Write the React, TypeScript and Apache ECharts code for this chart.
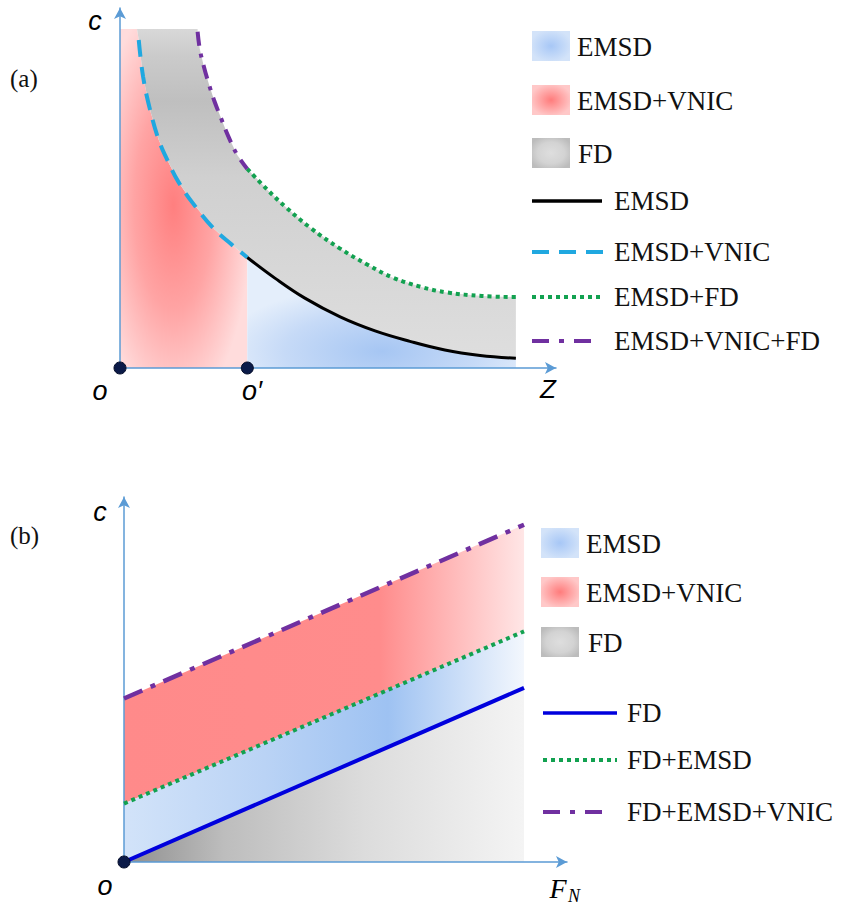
import React, { useEffect, useRef } from "react";
import * as echarts from "echarts";

// ---------- (a) data: c versus Z ----------
const emsdVnicCurve: number[][] = [
  [0.43, 9.11], [0.53, 8.09], [0.69, 7.17], [0.89, 6.33], [1.10, 5.74],
  [1.34, 5.17], [1.67, 4.58], [2.16, 3.86], [2.57, 3.42], [2.92, 3.07],
];
const emsdCurve: number[][] = [
  [2.92, 3.07], [3.56, 2.49], [4.24, 1.94], [5.05, 1.42], [5.85, 1.03],
  [6.65, 0.74], [7.45, 0.50], [8.26, 0.35], [9.08, 0.27],
];
const emsdVnicFdCurve: number[][] = [
  [1.78, 9.34], [1.83, 8.86], [1.92, 8.39], [2.04, 7.88], [2.16, 7.43],
  [2.33, 6.90], [2.49, 6.42], [2.69, 5.92], [2.92, 5.53],
];
const emsdFdCurve: number[][] = [
  [2.92, 5.53], [3.39, 4.94], [3.80, 4.47], [4.37, 3.89], [5.03, 3.33],
  [5.69, 2.86], [6.26, 2.51], [6.91, 2.25], [7.49, 2.10], [8.30, 2.00], [9.08, 1.97],
];
const regionTopA = 9.42;
const fdBandLeftA = 0.39;
const oPrimeZ = 2.92;
const zEnd = 9.08;

// ---------- (b) data: c versus F_N ----------
const fnRange = [0, 9.03];
const fdLine = [0, 4.77];
const fdEmsdLine = [1.6, 6.32];
const fdEmsdVnicLine = [4.48, 9.24];

// ---------- legends ----------
const legendAreaA = ["EMSD", "EMSD+VNIC", "FD"];
const legendLineA = ["EMSD", "EMSD+VNIC", "EMSD+FD", "EMSD+VNIC+FD"];
const legendAreaB = ["EMSD", "EMSD+VNIC", "FD"];
const legendLineB = ["FD", "FD+EMSD", "FD+EMSD+VNIC"];

const SERIF = '"Liberation Serif", "Times New Roman", serif';
const SANS = '"Liberation Sans", Arial, sans-serif';

const AXIS_COLOR = "#5b9bd5";
const BLUE_SW = { type: "radial", x: 0.5, y: 0.5, r: 0.55, colorStops: [{ offset: 0, color: "#a7c7f6" }, { offset: 1, color: "#d3e3f9" }] };
const PINK_SW = { type: "radial", x: 0.5, y: 0.5, r: 0.55, colorStops: [{ offset: 0, color: "#ff7c7c" }, { offset: 1, color: "#ffc8c8" }] };
const GRAY_SW = { type: "radial", x: 0.5, y: 0.5, r: 0.6, colorStops: [{ offset: 0, color: "#dedede" }, { offset: 0.6, color: "#d3d3d3" }, { offset: 1, color: "#bcbcbc" }] };

const LS_EMSD = { stroke: "#000000", lineWidth: 3.5 };
const LS_VNIC = { stroke: "#20a8e0", lineWidth: 4, lineDash: [17, 10] };
const LS_FDDOT = { stroke: "#12a150", lineWidth: 4, lineDash: [4, 4] };
const LS_PURPLE = { stroke: "#7030a0", lineWidth: 4, lineDash: [17, 10, 5, 10] };
const LS_FD_B = { stroke: "#0000dd", lineWidth: 3.5 };

function polySeries(idx: number, poly: number[][], fill: any, z: number) {
  return {
    type: "custom",
    xAxisIndex: idx,
    yAxisIndex: idx,
    z,
    silent: true,
    clip: false,
    data: [[0, 0]],
    renderItem: (_p: any, api: any) => ({
      type: "polygon",
      shape: { points: poly.map((pt) => api.coord(pt)) },
      style: { fill },
    }),
  };
}

function lineSeries(idx: number, data: number[][], style: any, smooth: number | boolean) {
  return {
    type: "line",
    xAxisIndex: idx,
    yAxisIndex: idx,
    data,
    smooth,
    symbol: "none",
    showSymbol: false,
    silent: true,
    clip: false,
    z: 5,
    lineStyle: {
      color: style.stroke,
      width: style.lineWidth,
      type: style.lineDash ? style.lineDash : "solid",
    },
  };
}

function txt(text: string, x: number, y: number, font: string, align = "left", fill = "#111111") {
  return { type: "text", x, y, silent: true, z: 20, style: { text, font, fill, align, verticalAlign: "middle" } };
}

function swatch(x: number, y: number, fill: any) {
  return { type: "rect", silent: true, z: 20, shape: { x, y: y - 15, width: 38, height: 30 }, style: { fill } };
}

function legLine(x1: number, x2: number, y: number, style: any) {
  return { type: "line", silent: true, z: 20, shape: { x1, y1: y, x2, y2: y }, style: { ...style } };
}

function buildOption() {
  // (a) polygons
  const pinkA = [
    [0, 0],
    [0, regionTopA],
    [fdBandLeftA, regionTopA],
    ...emsdVnicCurve,
    [oPrimeZ, 0],
  ];
  const blueA = [[oPrimeZ, 0], ...emsdCurve, [zEnd, 0]];
  const grayA = [
    [fdBandLeftA, regionTopA],
    [emsdVnicFdCurve[0][0], regionTopA],
    ...emsdVnicFdCurve,
    ...emsdFdCurve.slice(1),
    ...emsdCurve.slice().reverse(),
    ...emsdVnicCurve.slice(0, -1).reverse(),
  ];

  // (b) polygons
  const x0 = fnRange[0], x1 = fnRange[1];
  const redB = [[x0, fdEmsdVnicLine[0]], [x1, fdEmsdVnicLine[1]], [x1, fdEmsdLine[1]], [x0, fdEmsdLine[0]]];
  const blueB = [[x0, fdEmsdLine[0]], [x1, fdEmsdLine[1]], [x1, fdLine[1]], [x0, fdLine[0]]];
  const grayB = [[x0, fdLine[0]], [x1, fdLine[1]], [x1, 0]];

  const pinkGradA = { type: "radial", x: 0.42, y: 0.52, r: 0.62, colorStops: [
    { offset: 0, color: "#ff7f7f" }, { offset: 0.5, color: "#ffa4a4" }, { offset: 1, color: "#ffdcdc" } ] };
  const grayGradA = { type: "linear", x: 0, y: 0, x2: 0, y2: 1, colorStops: [
    { offset: 0, color: "#d8d8d8" }, { offset: 0.08, color: "#cbcbcb" }, { offset: 0.22, color: "#bfbfbf" },
    { offset: 0.45, color: "#d0d0d0" }, { offset: 1, color: "#dedede" } ] };
  const blueGradA = { type: "radial", x: 0.5, y: 0.85, r: 0.6, colorStops: [
    { offset: 0, color: "#a6c6f3" }, { offset: 0.6, color: "#c6daf7" }, { offset: 1, color: "#e4eefb" } ] };

  const redGradB = { type: "linear", x: 0, y: 0, x2: 1, y2: 0, colorStops: [
    { offset: 0, color: "#ff8a8a" }, { offset: 0.64, color: "#ff8c8c" }, { offset: 1, color: "#ffe6e6" } ] };
  const blueGradB = { type: "linear", x: 0, y: 0, x2: 1, y2: 0, colorStops: [
    { offset: 0, color: "#d2e3f9" }, { offset: 0.35, color: "#bad3f5" }, { offset: 0.66, color: "#9ec2f2" }, { offset: 1, color: "#f3f7fd" } ] };
  const grayGradB = { type: "linear", x: 0, y: 0, x2: 1, y2: 0, colorStops: [
    { offset: 0, color: "#8e8e8e" }, { offset: 0.25, color: "#bdbdbd" }, { offset: 0.6, color: "#dcdcdc" }, { offset: 1, color: "#f4f4f4" } ] };

  const axisLine = {
    show: true,
    onZero: false,
    symbol: ["none", "arrow"],
    symbolSize: [9, 11],
    lineStyle: { color: AXIS_COLOR, width: 1.5 },
  };
  const axisCommon = {
    type: "value",
    min: 0,
    max: 10,
    axisLine,
    axisTick: { show: false },
    axisLabel: { show: false },
    splitLine: { show: false },
    z: 3,
  };

  const graphic: any[] = [];
  // (a) labels
  graphic.push(txt("(a)", 10, 78, `25px ${SERIF}`));
  graphic.push(txt("c", 95, 21, `italic 27px ${SANS}`, "center", "#000"));
  graphic.push(txt("o", 100, 391, `italic 27px ${SANS}`, "center", "#000"));
  graphic.push(txt("o\u2032", 252, 391, `italic 27px ${SANS}`, "center", "#000"));
  graphic.push(txt("Z", 548, 389, `italic 26px ${SANS}`, "center", "#000"));
  // (a) legend
  const swA = [BLUE_SW, PINK_SW, GRAY_SW];
  const swAY = [46, 100, 153];
  legendAreaA.forEach((name, i) => {
    graphic.push(swatch(532, swAY[i], swA[i]));
    graphic.push(txt(name, name === "FD" ? 578 : 577, swAY[i] + 1, `27px ${SERIF}`));
  });
  const lnA = [LS_EMSD, LS_VNIC, LS_FDDOT, LS_PURPLE];
  const lnAY = [201, 252, 297, 341];
  const lnAEnd = [602, 603, 603, 595];
  legendLineA.forEach((name, i) => {
    graphic.push(legLine(532, lnAEnd[i], lnAY[i], lnA[i]));
    graphic.push(txt(name, 614, lnAY[i], `27px ${SERIF}`));
  });

  // (b) labels
  graphic.push(txt("(b)", 10, 535, `25px ${SERIF}`));
  graphic.push(txt("c", 100, 512, `italic 27px ${SANS}`, "center", "#000"));
  graphic.push(txt("o", 105, 886, `italic 27px ${SANS}`, "center", "#000"));
  graphic.push(txt("F", 558, 888, `italic 28px ${SERIF}`, "center", "#000"));
  graphic.push(txt("N", 574, 896, `italic 18px ${SERIF}`, "center", "#000"));
  // (b) legend
  const swB = [BLUE_SW, PINK_SW, GRAY_SW];
  const swBY = [543, 592, 642];
  legendAreaB.forEach((name, i) => {
    graphic.push(swatch(541, swBY[i], swB[i]));
    graphic.push(txt(name, name === "FD" ? 588 : 586, swBY[i] + 1, `27px ${SERIF}`));
  });
  const lnB = [LS_FD_B, LS_FDDOT, LS_PURPLE];
  const lnBY = [713, 760, 812];
  const lnBEnd = [617, 617, 608];
  legendLineB.forEach((name, i) => {
    graphic.push(legLine(543, lnBEnd[i], lnBY[i], lnB[i]));
    graphic.push(txt(name, 627, lnBY[i], `27px ${SERIF}`));
  });

  const markerStyle = { color: "#0b1a48", borderColor: "#040c28", borderWidth: 1, opacity: 1 };

  return {
    animation: false,
    backgroundColor: "#ffffff",
    grid: [
      { left: 120, top: 8, width: 436, height: 360 },
      { left: 124, top: 497, width: 443, height: 365 },
    ],
    xAxis: [
      { ...axisCommon, gridIndex: 0 },
      { ...axisCommon, gridIndex: 1 },
    ],
    yAxis: [
      { ...axisCommon, gridIndex: 0 },
      { ...axisCommon, gridIndex: 1 },
    ],
    graphic,
    series: [
      // (a) regions
      polySeries(0, pinkA, pinkGradA, 1),
      polySeries(0, blueA, blueGradA, 1),
      polySeries(0, grayA, grayGradA, 2),
      // (a) curves
      lineSeries(0, emsdVnicCurve, LS_VNIC, 0.4),
      lineSeries(0, emsdCurve, { ...LS_EMSD, lineWidth: 3 }, 0.4),
      lineSeries(0, emsdVnicFdCurve, { ...LS_PURPLE, lineDash: [14, 8, 4, 8] }, 0.4),
      lineSeries(0, emsdFdCurve, LS_FDDOT, 0.4),
      {
        type: "scatter",
        xAxisIndex: 0,
        yAxisIndex: 0,
        data: [[0, 0], [oPrimeZ, 0]],
        symbolSize: 12,
        itemStyle: markerStyle,
        z: 10,
        silent: true,
        clip: false,
      },
      // (b) regions
      polySeries(1, redB, redGradB, 1),
      polySeries(1, blueB, blueGradB, 1),
      polySeries(1, grayB, grayGradB, 1),
      // (b) lines
      lineSeries(1, [[x0, fdEmsdVnicLine[0]], [x1, fdEmsdVnicLine[1]]], { ...LS_PURPLE, lineWidth: 4.5, lineDash: [20, 9, 5, 9] }, false),
      lineSeries(1, [[x0, fdEmsdLine[0]], [x1, fdEmsdLine[1]]], LS_FDDOT, false),
      lineSeries(1, [[x0, fdLine[0]], [x1, fdLine[1]]], { ...LS_FD_B, lineWidth: 4 }, false),
      {
        type: "scatter",
        xAxisIndex: 1,
        yAxisIndex: 1,
        data: [[0, 0]],
        symbolSize: 12,
        itemStyle: markerStyle,
        z: 10,
        silent: true,
        clip: false,
      },
    ],
  };
}

export default function App() {
  const ref = useRef<HTMLDivElement>(null);
  useEffect(() => {
    document.body.style.margin = "0";
    const chart = echarts.init(ref.current as HTMLDivElement, null, { renderer: "svg" });
    chart.setOption(buildOption() as any);
    return () => chart.dispose();
  }, []);
  return <div ref={ref} style={{ width: 841, height: 910 }} />;
}
